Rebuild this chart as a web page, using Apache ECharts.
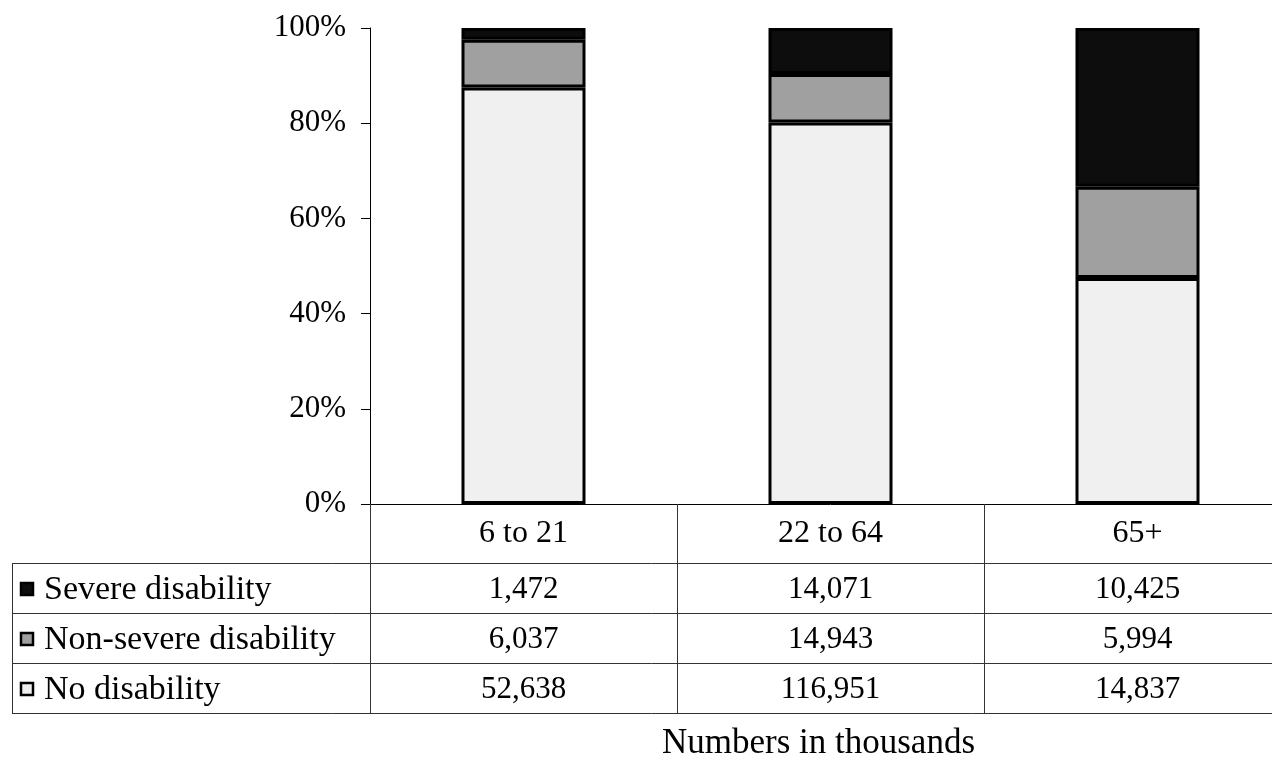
<!DOCTYPE html>
<html>
<head>
<meta charset="utf-8">
<script src="https://cdn.jsdelivr.net/npm/echarts@6/dist/echarts.min.js"></script>
<style>
  html, body { margin: 0; padding: 0; background: #fff; overflow: hidden; }
  #chart { width: 1291px; height: 760px; }
</style>
</head>
<body>
<div id="chart"></div>
<script>
var categories = ['6 to 21', '22 to 64', '65+'];
var seriesNames = ['Severe disability', 'Non-severe disability', 'No disability'];
var severe = [1472, 14071, 10425];
var nonSevere = [6037, 14943, 5994];
var noDisability = [52638, 116951, 14837];
var yTicks = [0, 20, 40, 60, 80, 100];
var footnote = 'Numbers in thousands';

var FONT = '"Liberation Serif", "Times New Roman", serif';
var colors = { severe: '#0d0d0d', nonSevere: '#a0a0a0', none: '#f0f0f0' };

var totals = categories.map(function (c, i) { return severe[i] + nonSevere[i] + noDisability[i]; });
function pct(arr) { return arr.map(function (v, i) { return v / totals[i] * 100; }); }
function fmt(n) { return n.toString().replace(/\B(?=(\d{3})+(?!\d))/g, ','); }

var chart = echarts.init(document.getElementById('chart'));

var barStyle = function (c) { return { color: c, borderColor: '#000', borderWidth: 3 }; };

chart.setOption({
  animation: false,
  backgroundColor: '#fff',
  grid: { left: 370, top: 28, right: 0, bottom: 256, containLabel: false },
  xAxis: {
    type: 'category',
    data: categories,
    boundaryGap: true,
    axisLine: { show: true, lineStyle: { color: '#000', width: 1 } },
    axisTick: { show: true, length: 210, lineStyle: { color: '#333', width: 1 } },
    axisLabel: { margin: 30, verticalAlign: 'middle', fontFamily: FONT, fontSize: 32, color: '#000' },
    splitLine: { show: false }
  },
  yAxis: {
    type: 'value',
    min: yTicks[0], max: yTicks[yTicks.length - 1], interval: 20,
    axisLine: { show: true, lineStyle: { color: '#000', width: 1 } },
    axisTick: { show: true, length: 9, lineStyle: { color: '#000', width: 1 } },
    axisLabel: { margin: 24, formatter: '{value}%', fontFamily: FONT, fontSize: 31, color: '#000' },
    splitLine: { show: false }
  },
  series: [
    { name: seriesNames[2], type: 'bar', stack: 'total', barWidth: 124, data: pct(noDisability), itemStyle: barStyle(colors.none) },
    { name: seriesNames[1], type: 'bar', stack: 'total', barWidth: 124, data: pct(nonSevere), itemStyle: barStyle(colors.nonSevere) },
    { name: seriesNames[0], type: 'bar', stack: 'total', barWidth: 124, data: pct(severe), itemStyle: barStyle(colors.severe) }
  ]
});

// data table below the chart
var rowTops = [563, 613, 663, 713];
var rows = [
  { name: seriesNames[0], values: severe, color: colors.severe },
  { name: seriesNames[1], values: nonSevere, color: colors.nonSevere },
  { name: seriesNames[2], values: noDisability, color: colors.none }
];
var g = [];
var lineStyle = { stroke: '#333', lineWidth: 1 };
rowTops.forEach(function (y) {
  g.push({ type: 'line', shape: { x1: 12, y1: y + 0.5, x2: 1291, y2: y + 0.5 }, style: lineStyle, silent: true });
});
g.push({ type: 'line', shape: { x1: 12.5, y1: rowTops[0], x2: 12.5, y2: rowTops[3] + 1 }, style: lineStyle, silent: true });

rows.forEach(function (r, ri) {
  var cy = (rowTops[ri] + rowTops[ri + 1]) / 2 + 2;
  g.push({ type: 'rect', shape: { x: 21, y: cy - 7, width: 12, height: 12 }, style: { fill: r.color, stroke: '#000', lineWidth: 2.5 }, silent: true });
  g.push({ type: 'text', x: 44, y: cy, style: { text: r.name, font: '34px ' + FONT, fill: '#000', textAlign: 'left', textVerticalAlign: 'middle' }, silent: true });
  categories.forEach(function (c, ci) {
    var cx = chart.convertToPixel({ xAxisIndex: 0 }, c);
    g.push({ type: 'text', x: cx, y: cy, style: { text: fmt(r.values[ci]), font: '31px ' + FONT, fill: '#000', textAlign: 'center', textVerticalAlign: 'middle' }, silent: true });
  });
});

g.push({ type: 'text', x: chart.convertToPixel({ xAxisIndex: 0 }, categories[1]) - 12, y: 744, style: { text: footnote, font: '35px ' + FONT, fill: '#000', textAlign: 'center', textVerticalAlign: 'middle' }, silent: true });

chart.setOption({ graphic: g });
</script>
</body>
</html>
